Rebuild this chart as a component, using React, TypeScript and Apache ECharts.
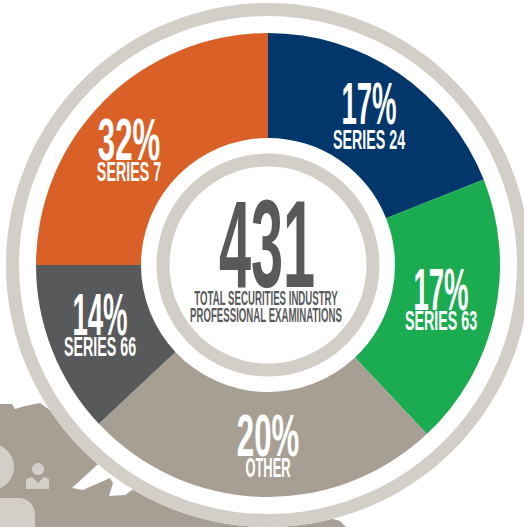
import React, { useEffect, useRef } from "react";
import * as echarts from "echarts";

// Slice sizes follow the drawn angles of the reference; the printed percentages are kept apart.
const categories = ["SERIES 24", "SERIES 63", "OTHER", "SERIES 66", "SERIES 7"];
const drawnShares = [19, 19, 25, 12, 25];
const printedPercents = ["17%", "17%", "20%", "14%", "32%"];
const sliceColors = ["#02376b", "#1bab50", "#a89f94", "#58595b", "#d96127"];
const centerNumber = "431";
const centerCaption = ["TOTAL SECURITIES INDUSTRY", "PROFESSIONAL EXAMINATIONS"];

const labelPercentPos = [[369, 103], [441, 289], [268, 435], [100, 314], [129, 139]];
const labelNamePos = [[369, 140], [441, 321], [268, 467], [100, 347], [129, 172]];
const percentWidthScale = [0.46, 0.46, 0.52, 0.46, 0.52];
const nameWidthScale = [0.51, 0.51, 0.46, 0.51, 0.51];

const FONT = '"Liberation Sans Narrow", "Liberation Sans", sans-serif';
const CX = 268;
const CY = 265;
const RING = "#d3cec7";
const MAP = "#a89f94";
const GREY = "#58595b";

const mapOutline = [
  [0, 404], [12, 404], [15, 409], [25, 406], [40, 403], [47, 408], [60, 418], [150, 430],
  [97, 465], [72, 488], [83, 490], [110, 478], [113, 483], [109, 496], [125, 495], [135, 488],
  [220, 500], [330, 518], [340, 521], [346, 527], [0, 527],
];

function txt(text: string, x: number, y: number, size: number, sx: number, fill: string, z = 100) {
  return {
    type: "text", x, y, scaleX: sx, scaleY: 1, z, silent: true,
    style: { text, fill, font: `bold ${size}px ${FONT}`, textAlign: "center", textVerticalAlign: "middle" },
  };
}

export default function App() {
  const ref = useRef<HTMLDivElement>(null);
  useEffect(() => {
    document.body.style.margin = "0";
    const chart = echarts.init(ref.current!, undefined, { renderer: "svg", width: 524, height: 527 });
    const labels: any[] = [];
    categories.forEach((c, i) => {
      labels.push(txt(printedPercents[i], labelPercentPos[i][0], labelPercentPos[i][1], 60, percentWidthScale[i], "#ffffff"));
      labels.push(txt(c, labelNamePos[i][0], labelNamePos[i][1], 28, nameWidthScale[i], "#ffffff"));
    });
    chart.setOption({
      animation: false,
      backgroundColor: "#ffffff",
      graphic: [
        { type: "polygon", z: 0, silent: true, shape: { points: mapOutline }, style: { fill: MAP } },
        { type: "circle", z: 0, silent: true, shape: { cx: -9.5, cy: 467, r: 23.5 }, style: { fill: RING } },
        { type: "rect", z: 0, silent: true, shape: { x: -30, y: 498, width: 65, height: 60, r: 16 }, style: { fill: RING } },
        { type: "circle", z: 0, silent: true, shape: { cx: 38, cy: 469, r: 6 }, style: { fill: RING } },
        { type: "polygon", z: 0, silent: true, shape: { points: [[26, 479], [32, 477], [38, 483], [44, 477], [49, 479], [49, 489], [26, 489]] }, style: { fill: RING } },
        { type: "circle", z: 1, silent: true, shape: { cx: CX, cy: CY, r: 262 }, style: { fill: "#ffffff" } },
        { type: "ring", z: 1, silent: true, shape: { cx: CX, cy: CY, r: 262, r0: 249 }, style: { fill: RING } },
        { type: "ring", z: 1, silent: true, shape: { cx: CX, cy: CY, r: 111.5, r0: 98.5 }, style: { fill: RING } },
        txt(centerNumber, 267, 243, 124, 0.465, GREY),
        txt(centerCaption[0], 266, 297, 21, 0.46, GREY),
        txt(centerCaption[1], 266, 314, 21, 0.46, GREY),
        ...labels,
      ],
      series: [
        {
          type: "pie",
          silent: true,
          center: [CX, CY],
          radius: [127, 232],
          startAngle: 90,
          clockwise: true,
          label: { show: false },
          labelLine: { show: false },
          data: categories.map((name, i) => ({
            name,
            value: drawnShares[i],
            itemStyle: { color: sliceColors[i] },
          })),
        },
      ],
    });
    return () => chart.dispose();
  }, []);
  return <div ref={ref} style={{ width: 524, height: 527 }} />;
}
